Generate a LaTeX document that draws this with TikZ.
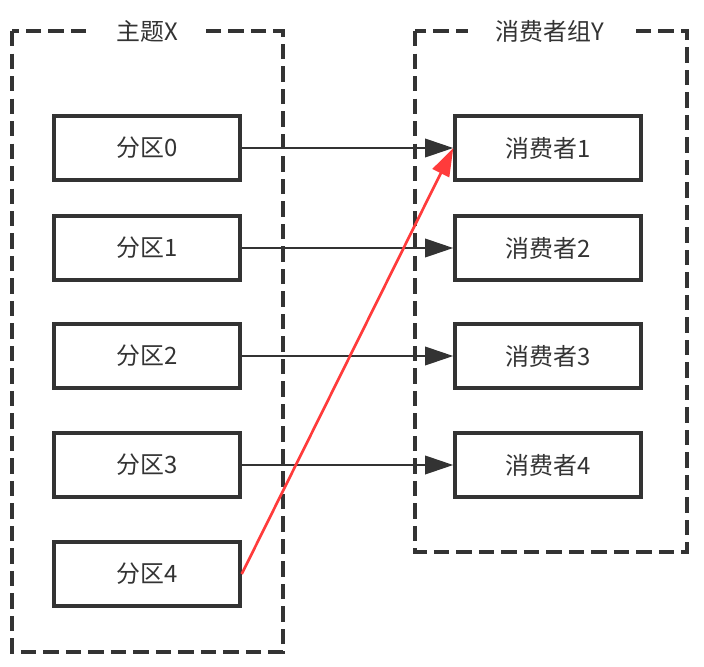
\documentclass[tikz,border=0pt]{standalone}
\usepackage{fontspec}
\setmainfont{Noto Sans CJK SC}
\usetikzlibrary{arrows.meta}
\definecolor{inkgray}{HTML}{333333}
\definecolor{linkred}{HTML}{FF3B3B}

\begin{document}
\begin{tikzpicture}[
				x=0.025cm,
				y=-0.025cm,
				line cap=butt,
				line join=miter,
				box/.style={draw=inkgray, line width=2.4pt, minimum width=4.65cm,
					minimum height=1.6cm, inner sep=0pt, text=inkgray,
					font=\fontsize{17}{20}\selectfont},
				group/.style={draw=inkgray, line width=2.4pt, dash pattern=on 11pt off 5pt},
				title/.style={fill=white, text=inkgray, inner xsep=20pt, inner ysep=3pt,
					font=\fontsize{17}{20}\selectfont},
				link/.style={draw=inkgray, line width=1.9pt,
					-{Triangle[length=20pt,width=13pt]}},
				redlink/.style={draw=linkred, line width=1.9pt,
					-{Triangle[length=20pt,width=13pt]}}
				]
				\useasboundingbox (0,0) rectangle (704,666);
				
				% Topic X
				\begin{scope}
					\draw[group] (12,31) rectangle (283,652);
					\node[title] (TX) at (147,31) {主题X};
					\node[box] (P0) at (147,148) {分区0};
					\node[box] (P1) at (147,248) {分区1};
					\node[box] (P2) at (147,356) {分区2};
					\node[box] (P3) at (147,465) {分区3};
					\node[box] (P4) at (147,574) {分区4};
				\end{scope}
				
				% Consumer group Y
				\begin{scope}
					\draw[group] (415,31) rectangle (687,552);
					\node[title] (GY) at (550,31) {消费者组Y};
					\node[box] (C1) at (548,148) {消费者1};
					\node[box] (C2) at (548,248) {消费者2};
					\node[box] (C3) at (548,356) {消费者3};
					\node[box] (C4) at (548,465) {消费者4};
				\end{scope}
				
				% Links
				\draw[link] (P0.east) -- (C1.west);
				\draw[link] (P1.east) -- (C2.west);
				\draw[link] (P2.east) -- (C3.west);
				\draw[link] (P3.east) -- (C4.west);
				\draw[redlink] (P4.east) -- (C1.west);
			\end{tikzpicture}
\end{document}
